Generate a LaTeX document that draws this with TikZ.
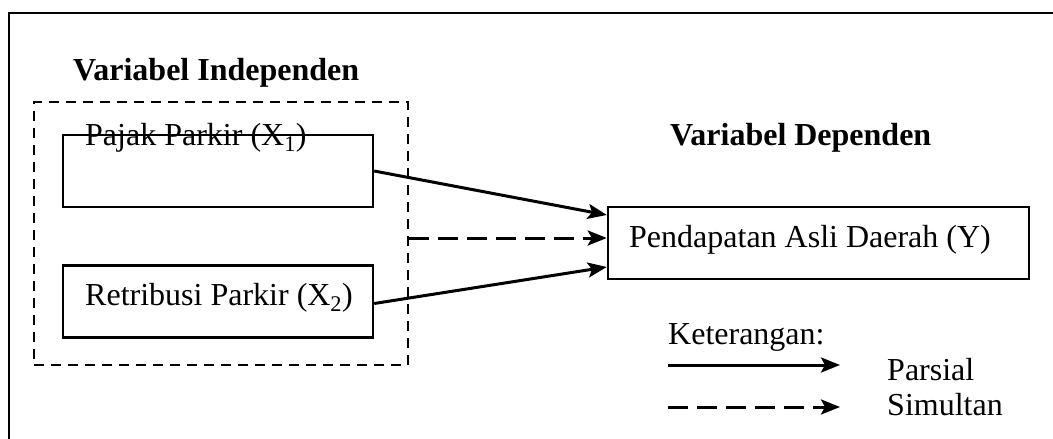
\documentclass[tikz,border=0pt]{standalone}
\usepackage{fontspec}
\setmainfont{Liberation Serif}
\usetikzlibrary{arrows.meta,calc}
\begin{document}
\begin{tikzpicture}[x=1pt,y=-1pt,
  font=\fontsize{32}{38}\selectfont,
  box/.style={draw,line width=2.4pt,minimum width=310pt,minimum height=72pt,inner sep=0pt},
  ybox/.style={draw,line width=2.4pt,minimum width=421pt,minimum height=72pt,inner sep=0pt},
  grp/.style={draw,line width=2.4pt,dash pattern=on 10pt off 7pt},
  conn/.style={line width=3pt,-{Stealth[length=19pt,width=15pt,inset=4pt]}},
  dconn/.style={conn,dash pattern=on 20pt off 9pt},
  lbl/.style={inner sep=0pt,anchor=base west},
  hdr/.style={lbl,font=\fontsize{32}{38}\selectfont\bfseries}]
\useasboundingbox (0,0) rectangle (1053,439);
\fill[white] (0,0) rectangle (1053,439);
% outer frame (cut at right and bottom)
\draw[line width=2.8pt] (9,440) -- (9,13) -- (1054,13);
% group box
\node[grp,minimum width=374pt,minimum height=263pt,inner sep=0pt] (grp) at (221,233.5) {};
% boxes
\node[box] (x1) at (218,171) {};
\node[box] (x2) at (218,301.5) {};
\node[ybox] (y) at (818.5,243) {};
% texts
\node[hdr] (tind) at (73,80) {Variabel Independen};
\node[hdr] (tdep) at (670,145) {Variabel Dependen};
\node[lbl] (tx1) at (85,145) {Pajak Parkir (X\textsubscript{1})};
\node[lbl] (tx2) at (85,305) {Retribusi Parkir (X\textsubscript{2})};
\node[lbl] (ty) at (629,247) {Pendapatan Asli Daerah (Y)};
% connectors
\coordinate (ya) at ($(y.west)+(0,-28)$);
\coordinate (yb) at ($(y.west)+(0,-5)$);
\coordinate (yc) at ($(y.west)+(0,24)$);
\draw[conn] (x1.east) -- (ya);
\draw[dconn] (grp.east |- yb) -- (yb);
\draw[conn] ($(x2.east)+(0,2)$) -- (yc);
% legend
\node[lbl] (ket) at (668,344) {Keterangan:};
\coordinate (l1a) at (668,365);
\coordinate (l1b) at (840,365);
\coordinate (l2a) at (668,407);
\coordinate (l2b) at (840,407);
\draw[conn] (l1a) -- (l1b);
\draw[dconn] (l2a) -- (l2b);
\node[lbl] (par) at (887,380) {Parsial};
\node[lbl] (sim) at (887,415) {Simultan};
\end{tikzpicture}
\end{document}
